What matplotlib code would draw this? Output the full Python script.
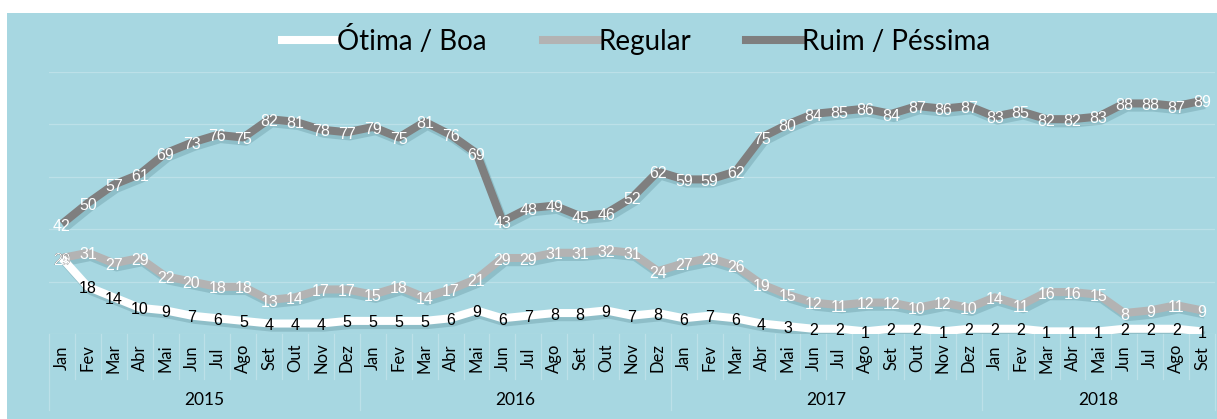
import matplotlib
matplotlib.use("Agg")
import matplotlib.pyplot as plt
import matplotlib.patheffects as pe
from matplotlib.patches import Rectangle
from matplotlib.lines import Line2D
import matplotlib.transforms as mtransforms

# ---------------- data ----------------
years = ["2015", "2016", "2017", "2018"]
months_per_year = [12, 12, 12, 9]
month_names = ["Jan", "Fev", "Mar", "Abr", "Mai", "Jun",
               "Jul", "Ago", "Set", "Out", "Nov", "Dez"]

otima_boa = [29, 18, 14, 10, 9, 7, 6, 5, 4, 4, 4, 5,
             5, 5, 5, 6, 9, 6, 7, 8, 8, 9, 7, 8,
             6, 7, 6, 4, 3, 2, 2, 1, 2, 2, 1, 2,
             2, 2, 1, 1, 1, 2, 2, 2, 1]
regular = [29, 31, 27, 29, 22, 20, 18, 18, 13, 14, 17, 17,
           15, 18, 14, 17, 21, 29, 29, 31, 31, 32, 31, 24,
           27, 29, 26, 19, 15, 12, 11, 12, 12, 10, 12, 10,
           14, 11, 16, 16, 15, 8, 9, 11, 9]
ruim_pessima = [42, 50, 57, 61, 69, 73, 76, 75, 82, 81, 78, 77,
                79, 75, 81, 76, 69, 43, 48, 49, 45, 46, 52, 62,
                59, 59, 62, 75, 80, 84, 85, 86, 84, 87, 86, 87,
                83, 85, 82, 82, 83, 88, 88, 87, 89]

series_names = ["Ótima / Boa", "Regular", "Ruim / Péssima"]

# ---------------- style ----------------
BG = "#A7D7E1"
GRID = "#BCE0E8"
C_OTIMA = "#FFFFFF"
C_REG = "#B3B3B3"
C_RUIM = "#7F7F7F"
W, H = 1217, 419

month_labels = []
for n in months_per_year:
    month_labels += month_names[:n]
x = list(range(len(month_labels)))

fig = plt.figure(figsize=(W / 100, H / 100), dpi=100)
fig.patch.set_facecolor("white")
fig.add_artist(Rectangle((7 / W, 0), 1 - 7 / W, (H - 13) / H,
                         transform=fig.transFigure, facecolor=BG,
                         edgecolor="none", zorder=0))

left, right, top, bottom = 49, 1215, 72, 334
ax = fig.add_axes([left / W, 1 - bottom / H, (right - left) / W, (bottom - top) / H])
ax.set_facecolor("none")
ax.set_xlim(-0.5, len(x) - 0.5)
ax.set_ylim(0, 100)
for s in ax.spines.values():
    s.set_visible(False)
ax.set_xticks([])
ax.set_yticks([])

for gy in [0, 20, 40, 60, 80, 100]:
    ax.axhline(gy, color=GRID, lw=0.9, zorder=1)

# category axis separators and labels
trans = mtransforms.blended_transform_factory(ax.transData, ax.transAxes)
ph = bottom - top
year_bounds = [0]
for n in months_per_year:
    year_bounds.append(year_bounds[-1] + n)
for i in range(len(x) + 1):
    low = (bottom - 410) / ph if i in year_bounds else (bottom - 379) / ph
    ax.plot([i - 0.5, i - 0.5], [0, low], transform=trans, color=GRID,
            lw=0.9, clip_on=False, zorder=1)
for i, m in enumerate(month_labels):
    ax.text(i, (bottom - 358) / ph, m, transform=trans, rotation=90,
            ha="center", va="center", fontsize=12, family="Lato", color="black")
for k, yname in enumerate(years):
    cx = (year_bounds[k] + year_bounds[k + 1] - 1) / 2
    ax.text(cx, (bottom - 400) / ph, yname, transform=trans,
            ha="center", va="center", fontsize=12.5, family="Lato", color="black")

shadow = [pe.SimpleLineShadow(offset=(2, -3), shadow_color="#1f4f5a", alpha=0.18),
          pe.Normal()]
LW = 5.8
ax.plot(x, ruim_pessima, color=C_RUIM, lw=LW, solid_joinstyle="round",
        solid_capstyle="butt", path_effects=shadow, zorder=3)
ax.plot(x, regular, color=C_REG, lw=LW, solid_joinstyle="round",
        solid_capstyle="butt", path_effects=shadow, zorder=4)
ax.plot(x, otima_boa, color=C_OTIMA, lw=LW, solid_joinstyle="round",
        solid_capstyle="butt", path_effects=shadow, zorder=5)

lab_kw = dict(ha="center", va="center", fontsize=11.5, family="Liberation Sans",
              textcoords="offset points", xytext=(0, -1.5))
for xi, v in zip(x, otima_boa):
    ax.annotate(str(v), (xi, v), color="black", zorder=6, **lab_kw)
for xi, v in zip(x, regular):
    ax.annotate(str(v), (xi, v), color="white", zorder=7, **lab_kw)
for xi, v in zip(x, ruim_pessima):
    ax.annotate(str(v), (xi, v), color="white", zorder=7, **lab_kw)

handles = [Line2D([], [], color=c, lw=LW) for c in (C_OTIMA, C_REG, C_RUIM)]
fig.legend(handles, series_names, loc="center", bbox_to_anchor=(636 / W, 1 - 40 / H),
           ncol=3, frameon=False, handlelength=2.0, handletextpad=0.0,
           columnspacing=2.0, prop={"family": "Lato", "size": 20})

fig.savefig("out.png", dpi=100, facecolor="white")
